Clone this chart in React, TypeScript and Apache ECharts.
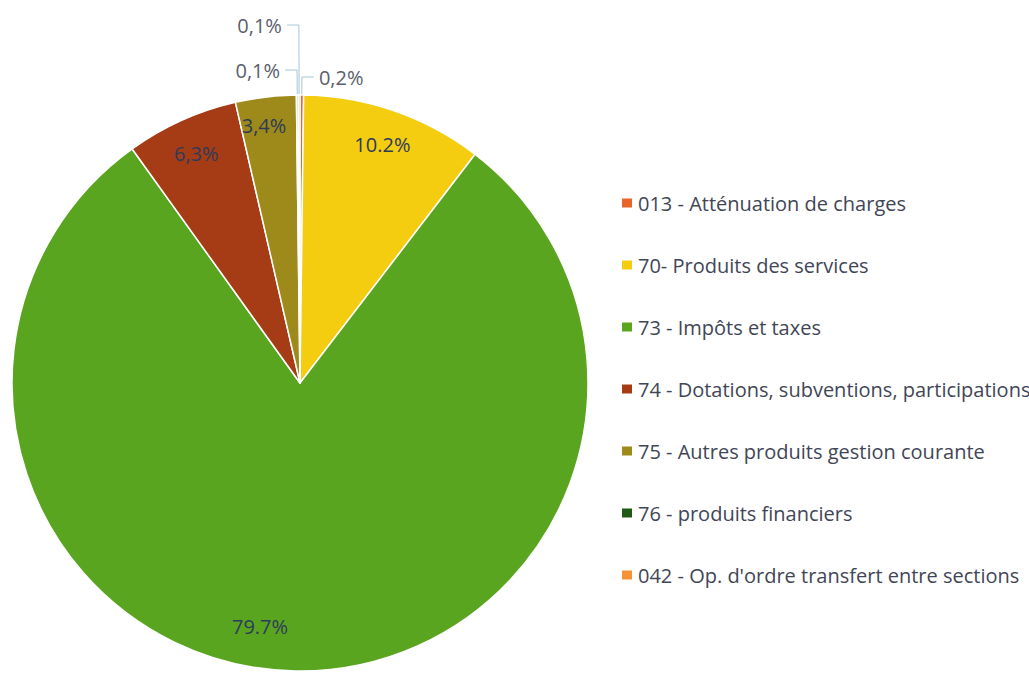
import React, { useEffect, useRef } from "react";
import * as echarts from "echarts";

const categories = [
  "013 - Atténuation de charges",
  "70- Produits des services",
  "73 - Impôts et taxes",
  "74 - Dotations, subventions, participations",
  "75 - Autres produits gestion courante",
  "76 - produits financiers",
  "042 - Op. d'ordre transfert entre sections",
];
const values = [0.2, 10.2, 79.7, 6.3, 3.4, 0.1, 0.1];
const labelTexts = ["0,2%", "10.2%", "79.7%", "6,3%", "3,4%", "0,1%", "0,1%"];
const colors = ["#e8642a", "#f4cc10", "#5aa520", "#a63c16", "#9e8a1a", "#1f5a15", "#f59238"];

// leader line lengths for the small outside labels (style only)
const leaderLen: Record<number, [number, number]> = {
  0: [18, 12],
  5: [25, 12],
  6: [70, 12],
};
// small nudges of inside labels (style only)
const labelNudge: Record<number, [number, number]> = {
  2: [-36, -8],
  4: [-6, -7],
};

export default function App() {
  const ref = useRef<HTMLDivElement>(null);
  useEffect(() => {
    if (!ref.current) return;
    const chart = echarts.init(ref.current, null, { renderer: "svg" });
    const center = [300, 383];
    const R = 288;
    const mainData = categories.map((name, i) => {
      const small = values[i] < 1;
      const ll = leaderLen[i] || [10, 10];
      return {
        name,
        value: values[i],
        itemStyle: { color: colors[i] },
        label: { show: small },
        labelLine: { show: small, length: ll[0], length2: ll[1] },
      };
    });
    const overlayData = categories.map((name, i) => ({
      name,
      value: values[i],
      label: { show: values[i] >= 1 },
    }));
    chart.setOption({
      animation: false,
      backgroundColor: "#ffffff",
      legend: {
        orient: "vertical",
        left: 620,
        top: 191,
        padding: 0,
        data: categories,
        icon: "rect",
        itemWidth: 12,
        itemHeight: 11,
        itemGap: 38,
        selectedMode: false,
        textStyle: {
          fontFamily: "Open Sans",
          fontSize: 20,
          lineHeight: 24,
          color: "#3f4656",
        },
      },
      series: [
        {
          type: "pie",
          name: "main",
          center,
          radius: R,
          startAngle: 90,
          clockwise: true,
          avoidLabelOverlap: false,
          itemStyle: { borderColor: "#ffffff", borderWidth: 1.5 },
          label: {
            position: "outside",
            formatter: (p: any) => labelTexts[p.dataIndex],
            fontFamily: "Open Sans",
            fontSize: 20,
            color: "#59606c",
            distanceToLabelLine: 5,
          },
          labelLine: {
            lineStyle: { color: "#a9c6d6", width: 1 },
          },
          emphasis: { disabled: true },
          data: mainData,
        },
        {
          type: "pie",
          name: "labels",
          center,
          radius: [210, R],
          startAngle: 90,
          clockwise: true,
          silent: true,
          avoidLabelOverlap: false,
          itemStyle: { color: "rgba(0,0,0,0)" },
          label: {
            position: "inside",
            formatter: (p: any) => labelTexts[p.dataIndex],
            fontFamily: "Open Sans",
            fontSize: 20,
            color: "#2e3b58",
          },
          labelLine: { show: false },
          labelLayout: (p: any) => {
            const n = labelNudge[p.dataIndex];
            return n ? { dx: n[0], dy: n[1] } : {};
          },
          emphasis: { disabled: true },
          data: overlayData,
        },
      ],
    });
    return () => chart.dispose();
  }, []);
  return (
    <div
      ref={ref}
      style={{ position: "fixed", left: 0, top: 0, width: 1029, height: 677 }}
    />
  );
}
